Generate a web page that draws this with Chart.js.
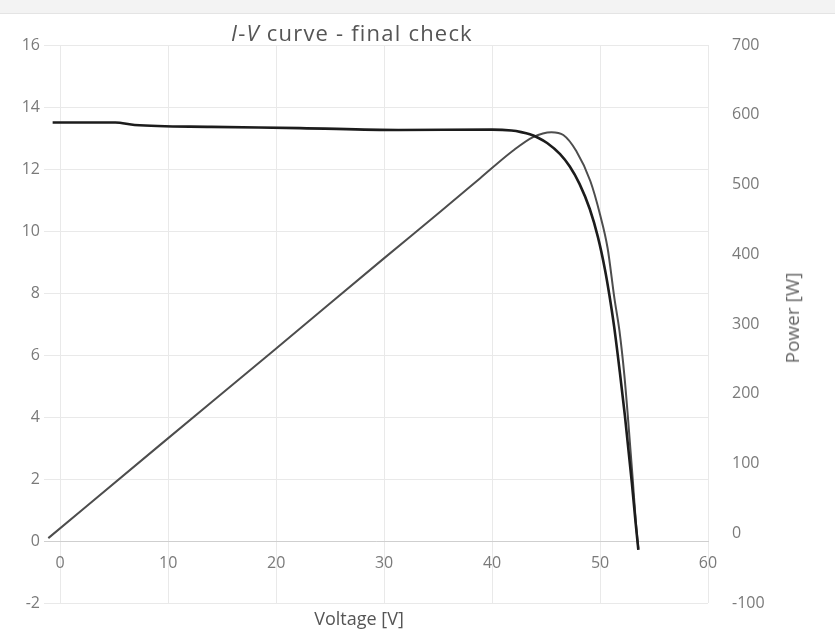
<!DOCTYPE html>
<html>
<head>
<meta charset="utf-8">
<script src="https://cdn.jsdelivr.net/npm/chart.js@4"></script>
<style>
  body { margin: 0; background: #fff; }
  #wrap { position: relative; width: 835px; height: 639px; }
  #scanband { position: absolute; left: 0; top: 0; width: 835px; height: 13px; background: #f3f3f3; border-bottom: 1px solid #e4e4e4; }
  .lbl { position: absolute; white-space: nowrap; font-family: 'Open Sans', Lato, sans-serif; color: #555; transform: translate(-50%, -50%); }
  #title { left: 352px; top: 32px; font-size: 22px; letter-spacing: 1.2px; }
  #xtitle { left: 359px; top: 618px; font-size: 18px; }
  #ptitle { left: 792px; top: 318px; font-size: 19px; color: #666; transform: translate(-50%, -50%) rotate(-90deg); }
</style>
</head>
<body>
<div id="wrap">
  <div id="scanband"></div>
  <canvas id="chart"></canvas>
  <div class="lbl" id="title"><i>I</i>-<i>V</i> curve - final check</div>
  <div class="lbl" id="xtitle">Voltage [V]</div>
  <div class="lbl" id="ptitle">Power [W]</div>
</div>
<script>
// I-V curve (voltage in V, current in A) - left axis
const ivVolt = [-0.7, 5.1, 6.9, 14.0, 22.2, 31.3, 40.0, 41.8, 42.7, 43.5, 44.3, 45.1, 46.3, 47.2, 48.1, 49.05, 49.8, 50.45, 50.85, 51.3, 51.85, 52.3, 52.95, 53.3, 53.55];
const ivCurrent = [13.5, 13.5, 13.42, 13.36, 13.32, 13.26, 13.27, 13.24, 13.19, 13.12, 13.0, 12.84, 12.48, 12.08, 11.52, 10.71, 9.81, 8.77, 7.97, 6.93, 5.4, 4.05, 1.87, 0.58, -0.29];

// power curve (W) - right axis
const pVolt = [-1.1, 9.2, 19.7, 29.9, 35.2, 38.9, 41.9, 43.8, 45.5, 46.6, 47.8, 49.1, 50.0, 50.7, 51.33, 51.8, 52.25, 52.57, 53.04, 53.31, 53.55];
const pWatt = [-7, 126, 261, 393, 461, 509, 548, 568, 575, 571, 548, 505, 457, 409, 337, 290, 227, 169, 75, 17, -22];

// axis ranges
const xMin = -1.5, xMax = 60, xStep = 10;
const yMin = -2, yMax = 16, yStep = 2;
const pMin = -100, pMax = 700, pStep = 100;

Chart.defaults.font.family = "'Open Sans', Lato, sans-serif";
Chart.defaults.color = '#7a7a7a';

const pts = (xs, ys) => xs.map((x, i) => ({ x: x, y: ys[i] }));
const gridCol = '#e9e9e9';

new Chart(document.getElementById('chart'), {
  type: 'scatter',
  data: {
    datasets: [
      { label: 'Current', data: pts(ivVolt, ivCurrent), yAxisID: 'y',
        showLine: true, borderColor: '#1c1c1c', borderWidth: 2.6, pointRadius: 0, cubicInterpolationMode: 'monotone' },
      { label: 'Power', data: pts(pVolt, pWatt), yAxisID: 'y1',
        showLine: true, borderColor: '#4d4d4d', borderWidth: 2, pointRadius: 0, cubicInterpolationMode: 'monotone' }
    ]
  },
  options: {
    responsive: true, maintainAspectRatio: false, animation: false,
    layout: { padding: { top: 45, left: 0, right: 0, bottom: 36 } },
    plugins: { legend: { display: false }, tooltip: { enabled: false } },
    scales: {
      x: {
        type: 'linear', position: { y: 0 }, min: xMin, max: xMax,
        ticks: { stepSize: xStep, includeBounds: false, padding: 13, font: { size: 16 } },
        grid: { color: gridCol, drawTicks: false },
        border: { color: '#cfcfcf' }
      },
      y: {
        position: 'left', min: yMin, max: yMax,
        ticks: { stepSize: yStep, padding: 4, font: { size: 16 } },
        grid: { color: gridCol, drawTicks: false },
        border: { display: false },
        afterFit: s => { s.width = 44; }
      },
      y1: {
        position: 'right', min: pMin, max: pMax,
        ticks: { stepSize: pStep, padding: 24, font: { size: 16 } },
        grid: { display: false, drawTicks: false },
        border: { display: false },
        afterFit: s => { s.width = 127; }
      }
    }
  }
});
</script>
</body>
</html>
